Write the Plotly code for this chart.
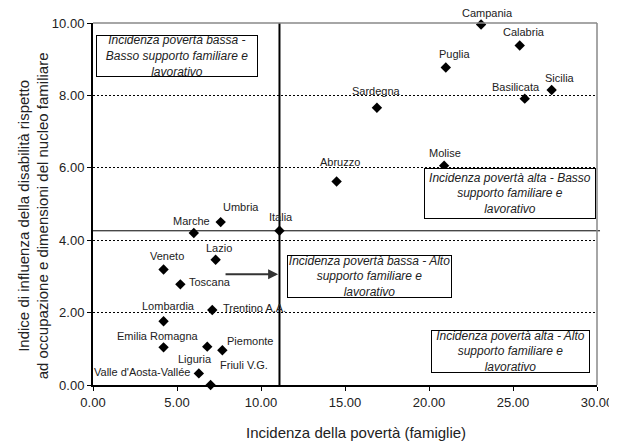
import plotly.graph_objects as go

# ---- data ----
regions = ["Campania", "Calabria", "Puglia", "Sicilia", "Basilicata", "Sardegna",
           "Molise", "Abruzzo", "Umbria", "Marche", "Italia", "Lazio", "Veneto",
           "Toscana", "Trentino A.A.", "Lombardia", "Emilia Romagna", "Piemonte",
           "Liguria", "Friuli V.G.", "Valle d'Aosta-Vallée"]
poverty = [23.1, 25.4, 21.0, 27.3, 25.7, 16.9,
           20.9, 14.5, 7.6, 6.0, 11.1, 7.3, 4.2,
           5.2, 7.1, 4.2, 4.2, 7.7,
           6.8, 7.0, 6.3]
disability = [9.96, 9.38, 8.77, 8.15, 7.91, 7.66,
              6.06, 5.62, 4.50, 4.20, 4.26, 3.46, 3.19,
              2.78, 2.07, 1.76, 1.04, 0.96,
              1.06, 0.00, 0.32]

x_ticks = [0, 5, 10, 15, 20, 25, 30]
y_ticks = [0, 2, 4, 6, 8, 10]

quadrant_texts = [
    "Incidenza povertà bassa -<br>Basso supporto familiare e<br>lavorativo",
    "Incidenza povertà alta - Basso<br>supporto familiare e<br>lavorativo",
    "Incidenza povertà bassa - Alto<br>supporto familiare e<br>lavorativo",
    "Incidenza povertà alta - Alto<br>supporto familiare e<br>lavorativo",
]

# ---- label placement (pixels: dx right, dy down, anchor) ----
label_pos = {
    "Campania": (6, -11, "center"),
    "Calabria": (4, -13, "center"),
    "Puglia": (9, -14, "center"),
    "Sicilia": (8, -12, "center"),
    "Basilicata": (-9, -12, "center"),
    "Sardegna": (0, -17, "center"),
    "Molise": (1, -13, "center"),
    "Abruzzo": (3, -20, "center"),
    "Umbria": (20, -15, "center"),
    "Marche": (-2, -12, "center"),
    "Italia": (2, -14, "center"),
    "Lazio": (3, -12, "center"),
    "Veneto": (3, -14, "center"),
    "Toscana": (7, -2, "left"),
    "Trentino A.A.": (9, -2, "left"),
    "Lombardia": (5, -15, "center"),
    "Emilia Romagna": (-6, -11, "center"),
    "Piemonte": (3, -9, "left"),
    "Liguria": (-12, 12, "center"),
    "Friuli V.G.": (7, -20, "left"),
    "Valle d'Aosta-Vallée": (-7, -1, "right"),
}

FONT = "Liberation Sans, Arial, sans-serif"

fig = go.Figure()
fig.add_trace(go.Scatter(
    x=poverty, y=disability, mode="markers",
    marker=dict(symbol="diamond", size=8, color="black"),
    hoverinfo="text", text=regions, showlegend=False, cliponaxis=False,
))

annotations = []
for name, px, py in zip(regions, poverty, disability):
    dx, dy, anc = label_pos[name]
    annotations.append(dict(
        x=px, y=py, xref="x", yref="y", text=name, showarrow=False,
        xshift=dx, yshift=-dy, xanchor=anc, yanchor="middle",
        font=dict(family=FONT, size=11, color="#222"),
    ))

# quadrant boxes
box_pos = [
    (5.02, 9.08, 160, 40),
    (24.82, 5.28, 170, 49),
    (16.46, 2.99, 163, 41),
    (24.85, 0.92, 157, 41),
]
for txt, (bx, by, bw, bh) in zip(quadrant_texts, box_pos):
    annotations.append(dict(
        x=bx, y=by, xref="x", yref="y", text="<i>" + txt + "</i>",
        showarrow=False, width=bw, height=bh, align="center", valign="middle",
        bordercolor="black", borderwidth=1, borderpad=0, bgcolor="white",
        font=dict(family=FONT, size=12, color="#222"),
    ))

ix = poverty[regions.index("Italia")]
iy = disability[regions.index("Italia")]

# arrow pointing to the Italia line
annotations.append(dict(
    x=ix - 0.08, y=3.06, ax=7.8, ay=3.06, xref="x", yref="y", axref="x", ayref="y",
    text="", showarrow=True, arrowhead=2, arrowsize=1, arrowwidth=2, arrowcolor="#333",
))

# axis titles
annotations.append(dict(
    x=-0.119, y=0.466, xref="paper", yref="paper", textangle=-90, showarrow=False,
    text="Indice di influenza della disabilità rispetto<br>ad occupazione e dimensioni del nucleo familiare",
    font=dict(family=FONT, size=15, color="#222"), xanchor="center", yanchor="middle",
))
annotations.append(dict(
    x=0.522, y=-0.13, xref="paper", yref="paper", showarrow=False,
    text="Incidenza della povertà (famiglie)",
    font=dict(family=FONT, size=15, color="#222"), xanchor="center", yanchor="middle",
))

shapes = [
    # Italia reference lines
    dict(type="line", xref="x", yref="y", x0=ix, x1=ix, y0=0, y1=10,
         line=dict(color="black", width=2)),
    dict(type="line", xref="paper", yref="y", x0=0, x1=1.006, y0=iy, y1=iy,
         line=dict(color="black", width=1)),
    # top and right plot border (gray)
    dict(type="line", xref="paper", yref="paper", x0=0, x1=1, y0=1, y1=1,
         line=dict(color="#888", width=1.5)),
    dict(type="line", xref="paper", yref="paper", x0=1, x1=1, y0=0, y1=1,
         line=dict(color="#888", width=1.5)),
]

# the page body has an 8px default margin, so the figure is sized to compensate
fig.update_layout(
    width=609, height=434, autosize=False,
    margin=dict(l=85, r=20, t=15, b=57, autoexpand=False),
    paper_bgcolor="white", plot_bgcolor="white",
    font=dict(family=FONT, color="#222"),
    annotations=annotations, shapes=shapes,
    xaxis=dict(
        range=[0, 30], tickvals=x_ticks, tickformat=".2f", automargin=False,
        showgrid=False, zeroline=False, showline=True, linecolor="black", linewidth=2,
        ticks="outside", ticklen=4, tickcolor="black", tickwidth=1,
        tickfont=dict(family=FONT, size=13, color="#222"),
    ),
    yaxis=dict(
        range=[0, 10], tickvals=y_ticks, tickformat=".2f", automargin=False,
        showgrid=True, gridcolor="black", gridwidth=1.2, griddash="2px,2px",
        zeroline=False, showline=True, linecolor="black", linewidth=2,
        ticks="outside", ticklen=4, tickcolor="black", tickwidth=1,
        tickfont=dict(family=FONT, size=13, color="#222"),
    ),
)

fig.write_html("out.html")
